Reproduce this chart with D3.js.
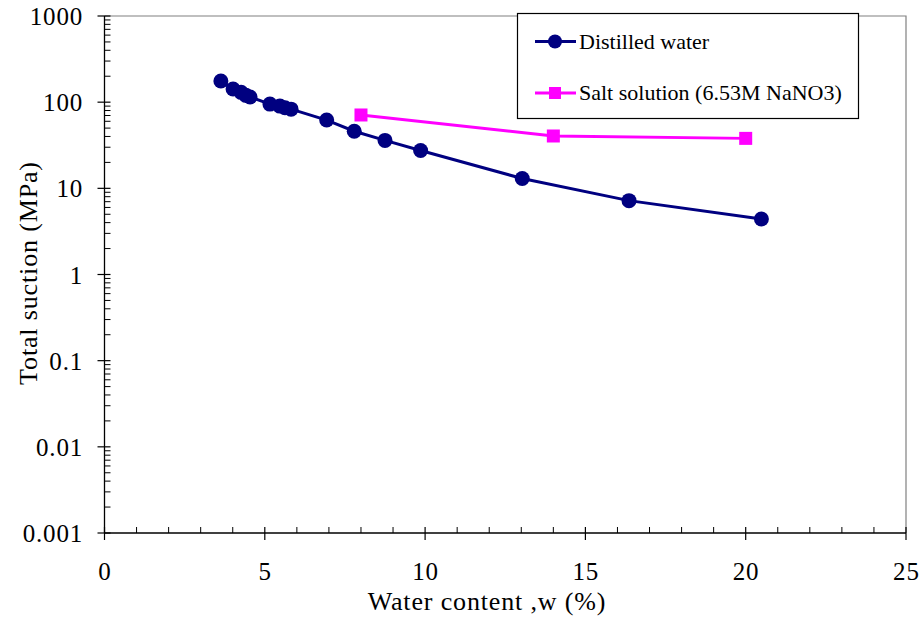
<!DOCTYPE html>
<html>
<head>
<meta charset="utf-8">
<script src="https://cdn.jsdelivr.net/npm/d3@7"></script>
<style>
  html, body { margin: 0; padding: 0; background: #fff; }
  svg { display: block; font-family: "Liberation Serif", "Times New Roman", serif; }
</style>
</head>
<body>
<svg id="chart" width="921" height="624"></svg>
<script>
// Water content (%) and total suction (MPa) for each wetting fluid
const distilledW = [3.63, 4.01, 4.26, 4.41, 4.54, 5.16, 5.47, 5.63, 5.82, 6.93, 7.79, 8.75, 9.86, 13.03, 16.36, 20.49];
const distilledS = [176, 142, 130, 120, 115, 95, 90, 86, 83, 62, 46, 36, 27.5, 13, 7.2, 4.4];
const saltW = [8, 14, 20];
const saltS = [71, 40.5, 38];

const xTicks = [0, 5, 10, 15, 20, 25];
const yTicks = [0.001, 0.01, 0.1, 1, 10, 100, 1000];
const yTickLabels = ["0.001", "0.01", "0.1", "1", "10", "100", "1000"];
const seriesNames = ["Distilled water", "Salt solution (6.53M NaNO3)"];

const svg = d3.select("#chart");
const plotL = 104.5, plotR = 906, plotT = 16, plotB = 533;

const x = d3.scaleLinear().domain([0, 25]).range([plotL, plotR]);
const y = d3.scaleLog().domain([0.001, 1000]).range([plotB, plotT]);

// plot frame: top and right edges in grey
svg.append("path")
  .attr("d", `M${plotL},${plotT}H${plotR}V${plotB}`)
  .attr("fill", "none").attr("stroke", "#808080").attr("stroke-width", 1.2);

// y axis: major ticks crossing the axis, minor ticks inside
const yAxis = svg.append("g");
yAxis.append("line").attr("x1", plotL).attr("x2", plotL).attr("y1", plotT).attr("y2", plotB)
  .attr("stroke", "#000").attr("stroke-width", 1.3);
const yMinor = [];
for (let e = -3; e < 3; e++) {
  for (let k = 2; k <= 9; k++) yMinor.push(k * Math.pow(10, e));
}
yAxis.selectAll("line.minor").data(yMinor).join("line").attr("class", "minor")
  .attr("x1", plotL).attr("x2", plotL + 6)
  .attr("y1", d => y(d)).attr("y2", d => y(d))
  .attr("stroke", "#000").attr("stroke-width", 1);
yAxis.selectAll("line.major").data(yTicks).join("line").attr("class", "major")
  .attr("x1", plotL - 7).attr("x2", plotL + 6)
  .attr("y1", d => y(d)).attr("y2", d => y(d))
  .attr("stroke", "#000").attr("stroke-width", 1.2);
yAxis.selectAll("text").data(yTicks).join("text")
  .attr("x", 83).attr("y", d => y(d) + 9)
  .attr("text-anchor", "end").attr("font-size", 25).attr("letter-spacing", 0.8)
  .attr("fill", "#000")
  .text((d, i) => yTickLabels[i]);

// x axis: major ticks crossing, minor ticks every unit pointing up
const xAxis = svg.append("g");
xAxis.append("line").attr("x1", plotL).attr("x2", plotR).attr("y1", plotB).attr("y2", plotB)
  .attr("stroke", "#000").attr("stroke-width", 1.3);
const xMinor = d3.range(1, 25).filter(v => v % 5 !== 0);
xAxis.selectAll("line.minor").data(xMinor).join("line").attr("class", "minor")
  .attr("x1", d => x(d)).attr("x2", d => x(d))
  .attr("y1", plotB - 6).attr("y2", plotB)
  .attr("stroke", "#000").attr("stroke-width", 1);
xAxis.selectAll("line.major").data(xTicks).join("line").attr("class", "major")
  .attr("x1", d => x(d)).attr("x2", d => x(d))
  .attr("y1", plotB - 6).attr("y2", plotB + 7)
  .attr("stroke", "#000").attr("stroke-width", 1.2);
xAxis.selectAll("text").data(xTicks).join("text")
  .attr("x", d => x(d) + 0.4).attr("y", 580)
  .attr("text-anchor", "middle").attr("font-size", 25).attr("letter-spacing", 0.8)
  .attr("fill", "#000")
  .text(d => d);

// axis titles
svg.append("text").attr("x", 487).attr("y", 610)
  .attr("text-anchor", "middle").attr("font-size", 26).attr("letter-spacing", 0.85)
  .text("Water content ,w (%)");
svg.append("text").attr("transform", `translate(37,273) rotate(-90)`)
  .attr("text-anchor", "middle").attr("font-size", 26).attr("letter-spacing", 0.85)
  .text("Total suction (MPa)");

// series
const line = d3.line().x(d => x(d[0])).y(d => y(d[1]));
const distilled = distilledW.map((w, i) => [w, distilledS[i]]);
const salt = saltW.map((w, i) => [w, saltS[i]]);
const navy = "#000080", magenta = "#FF00FF";

svg.append("path").datum(distilled).attr("d", line)
  .attr("fill", "none").attr("stroke", navy).attr("stroke-width", 3);
svg.selectAll("circle.dw").data(distilled).join("circle").attr("class", "dw")
  .attr("cx", d => x(d[0])).attr("cy", d => y(d[1])).attr("r", 7.5).attr("fill", navy);

svg.append("path").datum(salt).attr("d", line)
  .attr("fill", "none").attr("stroke", magenta).attr("stroke-width", 3);
svg.selectAll("rect.salt").data(salt).join("rect").attr("class", "salt")
  .attr("x", d => x(d[0]) - 6.5).attr("y", d => y(d[1]) - 6.5)
  .attr("width", 13).attr("height", 13).attr("fill", magenta);

// legend
const lg = svg.append("g");
lg.append("rect").attr("x", 517.5).attr("y", 13.5).attr("width", 341).attr("height", 105)
  .attr("fill", "#fff").attr("stroke", "#000").attr("stroke-width", 1.2);
const rows = [41.5, 93];
const colors = [navy, magenta];
rows.forEach((ry, i) => {
  lg.append("line").attr("x1", 535).attr("x2", 576).attr("y1", ry).attr("y2", ry)
    .attr("stroke", colors[i]).attr("stroke-width", 3);
  if (i === 0) {
    lg.append("circle").attr("cx", 555).attr("cy", ry).attr("r", 7).attr("fill", navy);
  } else {
    lg.append("rect").attr("x", 549).attr("y", ry - 6).attr("width", 12).attr("height", 12).attr("fill", magenta);
  }
  lg.append("text").attr("x", 579).attr("y", ry + 7).attr("font-size", 22)
    .text(seriesNames[i]);
});
</script>
</body>
</html>
